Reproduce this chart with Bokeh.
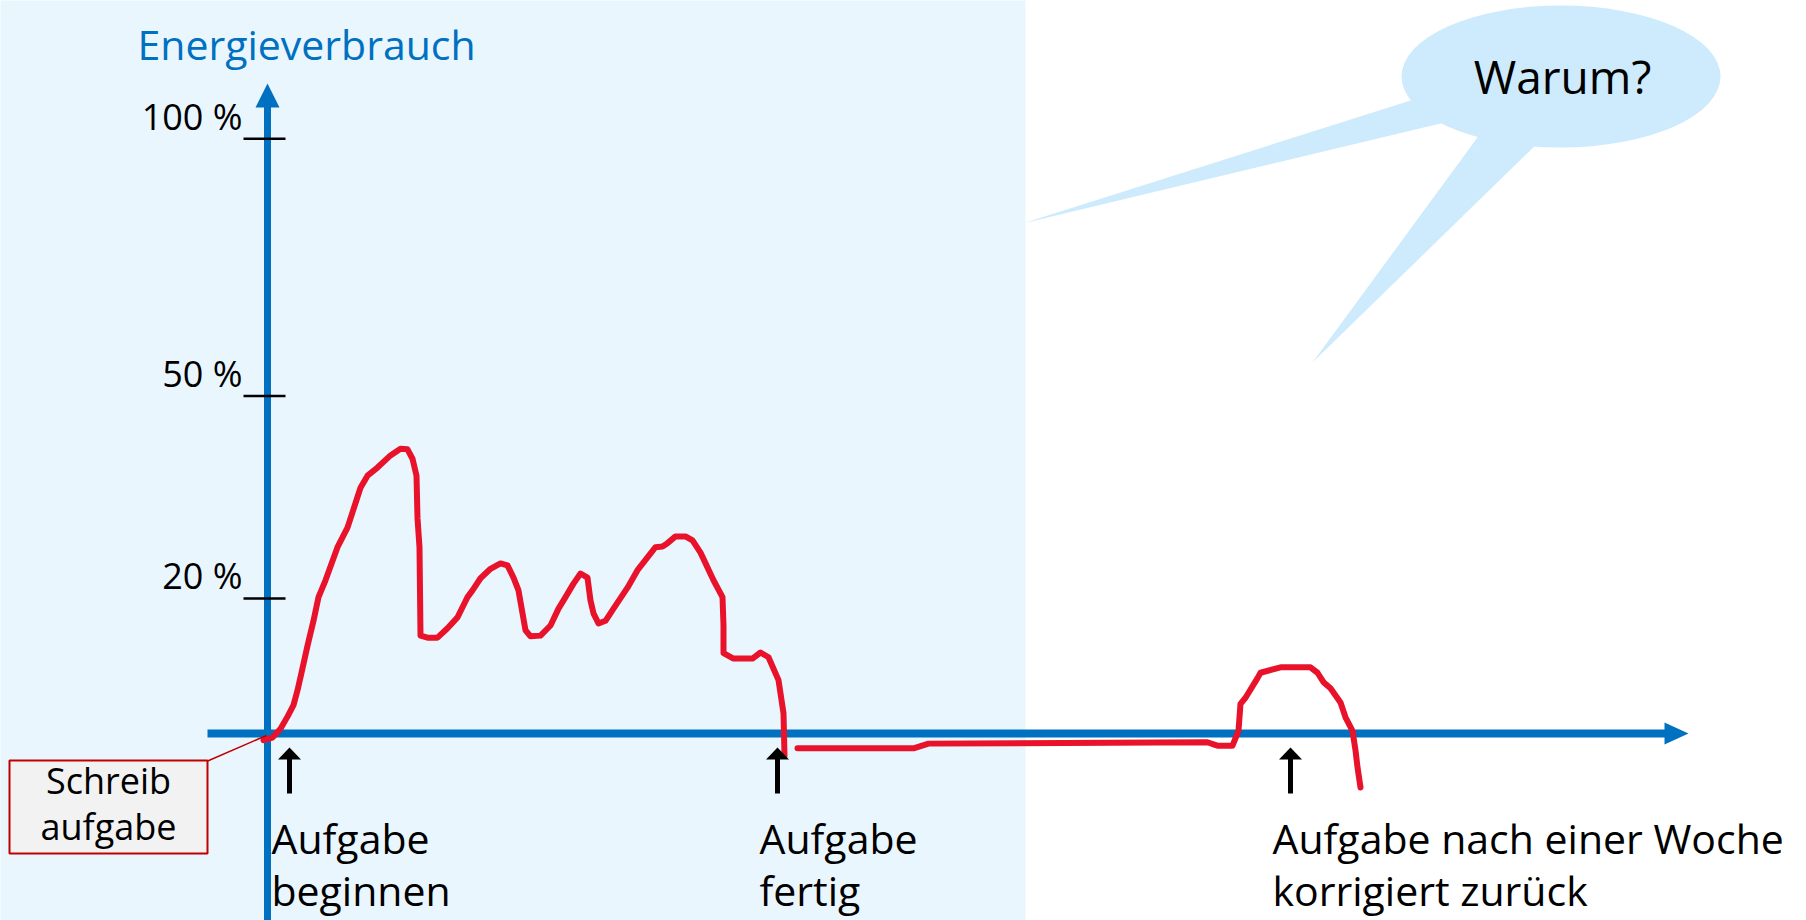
from bokeh.plotting import figure
from bokeh.models import Range1d
from bokeh.core.properties import value
from bokeh.embed import file_html
from bokeh.resources import INLINE

# ---------------- data (time in arbitrary units, energy in %) ----------------
# energy curve while working on the task
t_work = [-0.4, 0.5, 1.3, 2.0, 2.6, 3.0, 3.4, 4.0, 4.6, 5.1, 5.8, 7.0, 8.0, 9.3, 10.0,
          11.0, 12.3, 13.3, 14.0, 14.5, 14.9, 15.0, 15.2, 15.3, 16.0, 17.0, 18.0, 19.0,
          19.6, 20.0, 20.5, 21.3, 22.3, 23.3, 24.0, 24.6, 25.1, 25.5, 25.8, 26.3, 27.3,
          28.3, 29.1, 29.8, 30.6, 31.3, 32.0, 32.3, 32.6, 33.1, 33.8, 34.6, 36.0, 37.0,
          38.0, 38.8, 39.5, 40.0, 40.8, 41.8, 42.5, 43.3, 44.6, 45.5, 45.6, 45.6, 46.6,
          48.5, 49.3, 50.1, 51.1, 51.6, 51.7]
e_work = [-1.0, -0.6, 0.7, 2.5, 4.2, 6.4, 9.0, 13.0, 16.7, 20.2, 22.7, 27.6, 30.5, 36.4, 38.2,
          39.4, 41.2, 42.2, 42.1, 40.7, 38.2, 31.9, 27.6, 14.5, 14.2, 14.2, 15.6, 17.2,
          19.0, 20.2, 21.2, 23.0, 24.4, 25.2, 24.9, 23.1, 21.2, 17.8, 15.3, 14.4, 14.5,
          16.0, 18.5, 20.2, 22.2, 23.7, 23.1, 19.7, 17.8, 16.3, 16.7, 18.5, 21.6, 24.2,
          26.1, 27.6, 27.7, 28.2, 29.2, 29.2, 28.6, 26.8, 22.7, 20.2, 16.0, 11.9, 11.1,
          11.1, 12.0, 11.3, 7.9, 3.0, -3.3]
# energy curve afterwards (waiting, then the corrected task comes back)
t_later = [53.0, 64.6, 66.1, 94.0, 94.6, 95.0, 96.5, 97.1, 97.3, 97.8, 99.0, 99.3, 101.3,
           104.3, 105.0, 105.6, 106.3, 107.3, 107.8, 108.5, 108.8, 109.0, 109.3]
e_later = [-2.2, -2.2, -1.5, -1.3, -1.6, -1.8, -1.8, 0.4, 4.4, 5.3, 8.2, 9.0, 9.8,
           9.8, 9.0, 7.6, 6.7, 4.6, 2.4, 0.4, -2.5, -5.0, -8.0]

# y-axis ticks (the axis is schematic: 100 % is drawn lower than to scale)
y_tick_labels = ["20 %", "50 %", "100 %"]
y_tick_pos = [20, 50, 88.1]

# events on the time axis
event_t = [2.2, 51.0, 102.3]
event_line1 = ["Aufgabe", "Aufgabe", "Aufgabe nach einer Woche"]
event_line2 = ["beginnen", "fertig", "korrigiert zurück"]

title_text = "Energieverbrauch"
bubble_text = "Warum?"
box_lines = ["Schreib", "aufgabe"]

# ---------------- layout helpers ----------------
W, H = 1806, 920
PX_T, PX_E = 10.0, 6.75      # pixels per time unit / per percent
X0, Y0 = 267, 733           # pixel position of the origin
SHIFT = 0.46                # baseline correction (fraction of font size)


def X(px):
    return (px - X0) / PX_T


def Y(py):
    return (Y0 - py) / PX_E


def TY(py, size):
    """y for a text whose baseline should sit at pixel row py."""
    return Y(py - SHIFT * size)


BLUE = "#0070C0"
RED = "#E8132B"
PANEL = "#EAF6FE"
BUBBLE = "#CDEBFC"
FONT = value("Open Sans")

p = figure(width=W, height=H, output_backend="svg", toolbar_location=None,
           x_range=Range1d(X(0), X(W)), y_range=Range1d(Y(H), Y(0)),
           x_axis_location=None, y_axis_location=None, min_border=0)
p.grid.visible = False
p.outline_line_color = None
p.background_fill_color = "white"
p.border_fill_color = "white"

# speech bubble tails + ellipse
p.patches(xs=[[X(1429), X(1461), X(1022)], [X(1485), X(1544), X(1312)]],
          ys=[[Y(94), Y(118), Y(223)], [Y(126), Y(136), Y(362)]],
          fill_color=BUBBLE, line_color=None)
p.ellipse(x=[X(1560.5)], y=[Y(76)], width=319 / PX_T, height=142 / PX_E,
          fill_color=BUBBLE, line_color=None)
p.text(x=[X(1562)], y=[TY(97, 46)], text=[bubble_text], text_font=FONT,
       text_font_size="46px", text_align="center", text_baseline="alphabetic",
       text_color="black")

# light blue panel
p.quad(left=[X(-50)], right=[X(1025)], bottom=[Y(1000)], top=[Y(-50)],
       fill_color=PANEL, line_color=None)

# title
p.text(x=[X(137)], y=[TY(62, 41)], text=[title_text], text_font=FONT,
       text_font_size="41px", text_align="left", text_baseline="alphabetic",
       text_color=BLUE)

# axes (blue arrows)
p.segment(x0=[0], y0=[Y(940)], x1=[0], y1=[Y(104)], line_color=BLUE, line_width=7)
p.patches(xs=[[0, X(255), X(279)]], ys=[[Y(83), Y(107), Y(107)]],
          fill_color=BLUE, line_color=None)
p.segment(x0=[X(207)], y0=[0], x1=[X(1666)], y1=[0], line_color=BLUE, line_width=8)
p.patches(xs=[[X(1688), X(1664), X(1664)]], ys=[[0, Y(722), Y(744)]],
          fill_color=BLUE, line_color=None)

# ticks and tick labels (baseline 6 px above each tick)
p.segment(x0=[X(243)] * 3, y0=y_tick_pos, x1=[X(285)] * 3, y1=y_tick_pos,
          line_color="black", line_width=2.5)
p.text(x=[X(242)] * 3, y=[v + (6 + SHIFT * 36) / PX_E for v in y_tick_pos],
       text=y_tick_labels, text_font=FONT, text_font_size="36px", text_align="right",
       text_baseline="alphabetic", text_color="black")

# energy curve
p.line(t_work, e_work, line_color=RED, line_width=6, line_join="round", line_cap="round")
p.line(t_later, e_later, line_color=RED, line_width=6, line_join="round", line_cap="round")

# event arrows and labels
p.segment(x0=event_t, y0=[Y(757)] * 3, x1=event_t, y1=[Y(793)] * 3,
          line_color="black", line_width=5)
p.patches(xs=[[t, t - 1.15, t + 1.15] for t in event_t],
          ys=[[Y(747), Y(759), Y(759)] for _ in event_t],
          fill_color="black", line_color=None)
p.text(x=[t - 1.8 for t in event_t], y=[TY(856, 41)] * 3, text=event_line1, text_font=FONT,
       text_font_size="41px", text_align="left", text_baseline="alphabetic",
       text_color="black")
p.text(x=[t - 1.8 for t in event_t], y=[TY(908, 41)] * 3, text=event_line2, text_font=FONT,
       text_font_size="41px", text_align="left", text_baseline="alphabetic",
       text_color="black")

# callout box "Schreib aufgabe"
p.segment(x0=[X(206)], y0=[Y(761)], x1=[X(266)], y1=[Y(735)], line_color="#C00000",
          line_width=1.5)
p.quad(left=[X(9)], right=[X(207)], top=[Y(760)], bottom=[Y(853)],
       fill_color="#F2F2F2", line_color="#C00000", line_width=2)
p.text(x=[X(108)] * 2, y=[TY(797, 36), TY(843, 36)], text=box_lines, text_font=FONT,
       text_font_size="36px", text_align="center", text_baseline="alphabetic",
       text_color="black")

open("out.html", "w").write(file_html(p, INLINE))
